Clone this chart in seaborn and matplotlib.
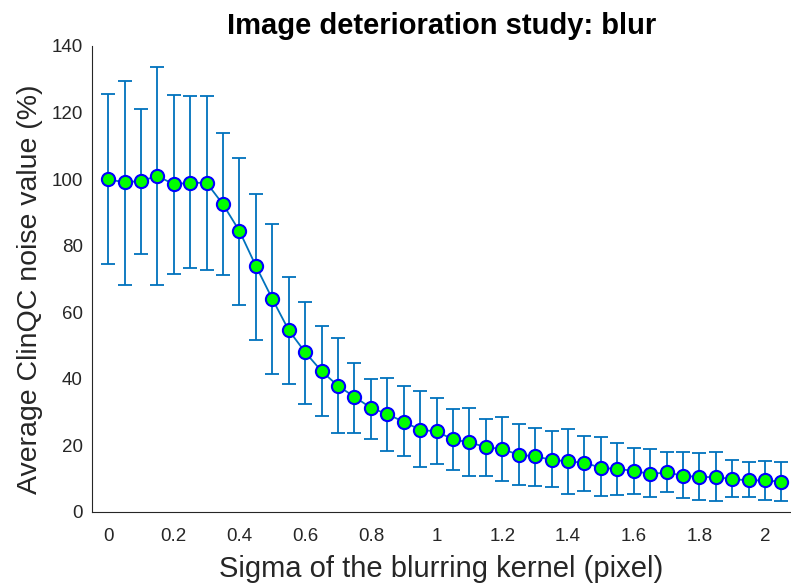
import matplotlib
matplotlib.use("Agg")
import matplotlib.pyplot as plt
import seaborn as sns
import pandas as pd
from matplotlib.ticker import FormatStrFormatter

sigma = [0.00, 0.05, 0.10, 0.15, 0.20, 0.25, 0.30, 0.35, 0.40, 0.45,
         0.50, 0.55, 0.60, 0.65, 0.70, 0.75, 0.80, 0.85, 0.90, 0.95,
         1.00, 1.05, 1.10, 1.15, 1.20, 1.25, 1.30, 1.35, 1.40, 1.45,
         1.50, 1.55, 1.60, 1.65, 1.70, 1.75, 1.80, 1.85, 1.90, 1.95,
         2.00, 2.05]
mean_val = [100.0, 99.0, 99.5, 100.9, 98.5, 98.9, 98.9, 92.4, 84.4, 73.9,
            64.0, 54.6, 48.0, 42.3, 37.9, 34.6, 31.3, 29.4, 27.1, 24.7,
            24.2, 21.8, 20.9, 19.5, 18.9, 17.2, 16.7, 15.7, 15.2, 14.8,
            13.3, 12.9, 12.4, 11.4, 11.9, 10.9, 10.5, 10.5, 9.9, 9.5,
            9.5, 9.1]
upper_val = [125.7, 129.6, 121.2, 133.7, 125.4, 125.0, 125.1, 113.8, 106.3, 95.6,
             86.5, 70.7, 63.1, 56.0, 52.4, 44.8, 40.0, 40.3, 37.8, 36.4,
             34.3, 30.9, 31.3, 27.8, 28.5, 26.5, 25.2, 24.3, 24.9, 22.9,
             22.4, 20.8, 19.2, 18.8, 18.0, 18.0, 17.8, 18.1, 15.7, 14.9,
             15.4, 14.9]
lower_val = [74.6, 68.2, 77.6, 68.1, 71.5, 73.4, 72.7, 71.1, 62.2, 51.7,
             41.5, 38.4, 32.4, 28.9, 23.8, 23.8, 22.0, 18.3, 16.9, 13.4,
             14.5, 12.5, 10.9, 10.9, 9.4, 8.2, 7.8, 7.6, 5.3, 6.3,
             4.7, 5.2, 5.4, 4.6, 5.9, 4.2, 3.5, 3.2, 4.4, 4.5,
             3.7, 3.2]
x_ticks = [0, 0.2, 0.4, 0.6, 0.8, 1.0, 1.2, 1.4, 1.6, 1.8, 2.0]
y_ticks = [0, 20, 40, 60, 80, 100, 120, 140]

title = "Image deterioration study: blur"
xlabel = "Sigma of the blurring kernel (pixel)"
ylabel = "Average ClinQC noise value (%)"

sns.set_style("white")
plt.rcParams["font.family"] = ["Liberation Sans", "DejaVu Sans"]

df = pd.DataFrame({"sigma": sigma, "mean": mean_val,
                   "upper": upper_val, "lower": lower_val})

fig = plt.figure(figsize=(7.91, 5.86), dpi=100)
ax = fig.add_axes([92 / 791, 74 / 586, 1 - 92 / 791, (512 - 46) / 586])

line_col = "#0072BD"
ax.errorbar(df["sigma"], df["mean"],
            yerr=[df["mean"] - df["lower"], df["upper"] - df["mean"]],
            fmt="none", ecolor=line_col, elinewidth=1.3, capsize=5,
            capthick=1.3, zorder=2)
sns.lineplot(data=df, x="sigma", y="mean", ax=ax, color=line_col,
             linewidth=1.3, marker="o", markersize=9.5,
             markerfacecolor="#00FF00", markeredgecolor="#0000FF",
             markeredgewidth=1.5, zorder=3)

ax.set_xlim(-0.049, 2.079)
ax.set_ylim(0, 140)
ax.set_xticks(x_ticks)
ax.set_yticks(y_ticks)
ax.xaxis.set_major_formatter(FormatStrFormatter("%g"))
ax.tick_params(direction="in", length=5, width=0.8, colors="#262626",
               labelsize=13.5)
ax.tick_params(axis="x", pad=11.5)
ax.tick_params(axis="y", pad=6.5)
for s in ["top", "right"]:
    ax.spines[s].set_visible(False)
for s in ["left", "bottom"]:
    ax.spines[s].set_color("#262626")
    ax.spines[s].set_linewidth(0.8)

ax.set_title(title, fontsize=21, fontweight="bold", color="black", pad=8.5)
ax.set_xlabel(xlabel, fontsize=21, color="#262626", labelpad=7.5)
ax.set_ylabel(ylabel, fontsize=20.5, color="#262626", labelpad=6.5)
ax.yaxis.label.set_y(0.5 - 10 / 466)

fig.savefig("out.png", dpi=100)
